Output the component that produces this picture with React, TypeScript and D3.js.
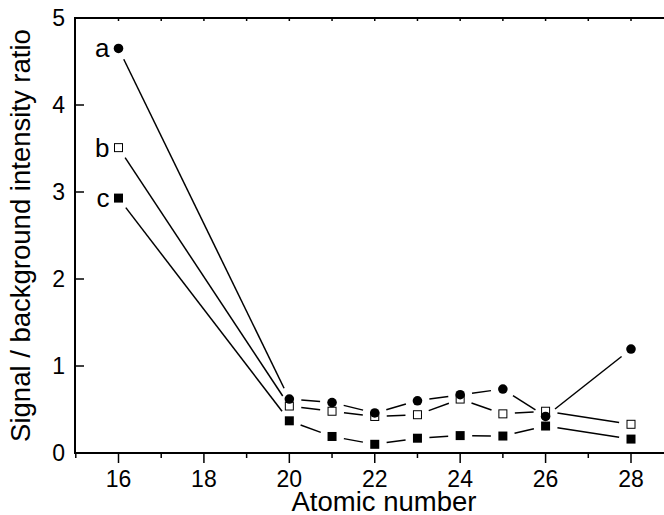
import React from "react";
import * as d3 from "d3";

const atomicNumbers = [16, 20, 21, 22, 23, 24, 25, 26, 28];
const seriesA = [4.65, 0.62, 0.58, 0.46, 0.6, 0.67, 0.735, 0.42, 1.195];
const seriesB = [3.51, 0.54, 0.48, 0.42, 0.44, 0.62, 0.45, 0.48, 0.33];
const seriesC = [2.93, 0.37, 0.19, 0.1, 0.17, 0.2, 0.195, 0.31, 0.16];
const seriesLabels = ["a", "b", "c"];
const xTickValues = [16, 18, 20, 22, 24, 26, 28];
const yTickValues = [0, 1, 2, 3, 4, 5];

const W = 664;
const H = 515;
const left = 75;
const top = 18;
const bottom = 453;
const FONT = "'Liberation Sans', Arial, Helvetica, sans-serif";

export default function App() {
  const x = d3.scaleLinear().domain([16, 28]).range([118.5, 631]);
  const y = d3.scaleLinear().domain([0, 5]).range([bottom, top]);
  const gap = 12;

  const segs = (vals: number[]) => {
    const out: { x1: number; y1: number; x2: number; y2: number }[] = [];
    for (let i = 0; i < vals.length - 1; i++) {
      const ax = x(atomicNumbers[i]), ay = y(vals[i]);
      const bx = x(atomicNumbers[i + 1]), by = y(vals[i + 1]);
      const dx = bx - ax, dy = by - ay;
      const L = Math.hypot(dx, dy);
      if (L <= 2 * gap) continue;
      const ux = dx / L, uy = dy / L;
      out.push({ x1: ax + ux * gap, y1: ay + uy * gap, x2: bx - ux * gap, y2: by - uy * gap });
    }
    return out;
  };

  const allSeries = [seriesC, seriesB, seriesA];
  const minorX = d3.range(15, 30, 1).filter((v) => v % 2 === 1 && x(v) > left);
  const topTicks = d3.range(16, 30, 1);

  return (
    <svg width={W} height={H} style={{ position: "absolute", left: 0, top: 0, background: "#fff" }} fontFamily={FONT}>
      <rect x={0} y={0} width={W} height={H} fill="#fff" />
      {allSeries.map((s, si) =>
        segs(s).map((g, i) => (
          <line key={`l${si}-${i}`} x1={g.x1} y1={g.y1} x2={g.x2} y2={g.y2} stroke="#000" strokeWidth={1.5} />
        ))
      )}
      {seriesC.map((v, i) => (
        <rect key={`c${i}`} x={x(atomicNumbers[i]) - 4.5} y={y(v) - 4.5} width={9} height={9} fill="#000" />
      ))}
      {seriesB.map((v, i) => (
        <rect key={`b${i}`} x={x(atomicNumbers[i]) - 4} y={y(v) - 4} width={8} height={8} fill="#fff" stroke="#000" strokeWidth={1} />
      ))}
      {seriesA.map((v, i) => (
        <circle key={`a${i}`} cx={x(atomicNumbers[i])} cy={y(v)} r={4.8} fill="#000" />
      ))}
      {[seriesA, seriesB, seriesC].map((s, i) => (
        <text key={`lab${i}`} x={x(atomicNumbers[0]) - 9} y={y(s[0]) + 9} textAnchor="end" fontSize={26} fill="#000">
          {seriesLabels[i]}
        </text>
      ))}
      <line x1={left} y1={top} x2={W} y2={top} stroke="#000" strokeWidth={2} />
      <line x1={left} y1={top - 1} x2={left} y2={bottom + 1} stroke="#000" strokeWidth={2} />
      <line x1={left - 1} y1={bottom} x2={W} y2={bottom} stroke="#000" strokeWidth={2} />
      {topTicks.map((v) => (
        <line key={`tt${v}`} x1={x(v)} x2={x(v)} y1={top} y2={top + 3} stroke="#000" strokeWidth={1.5} />
      ))}
      {xTickValues.map((v) => (
        <g key={`xt${v}`}>
          <line x1={x(v)} x2={x(v)} y1={bottom} y2={bottom + 10} stroke="#000" strokeWidth={1.5} />
          <text x={x(v)} y={487} textAnchor="middle" fontSize={23} fill="#000">{v}</text>
        </g>
      ))}
      {minorX.map((v) => (
        <line key={`xm${v}`} x1={x(v)} x2={x(v)} y1={bottom} y2={bottom + 5} stroke="#000" strokeWidth={1.5} />
      ))}
      {yTickValues.map((v) => (
        <g key={`yt${v}`}>
          <line x1={left} x2={left + 9} y1={y(v)} y2={y(v)} stroke="#000" strokeWidth={1.5} />
          <text x={65} y={y(v) + 8} textAnchor="end" fontSize={23} fill="#000">{v}</text>
        </g>
      ))}
      <text x={384} y={511} textAnchor="middle" fontSize={27.5} fill="#000">Atomic number</text>
      <text transform={`translate(30,${(top + bottom) / 2}) rotate(-90)`} textAnchor="middle" fontSize={27.5} fill="#000">
        Signal / background intensity ratio
      </text>
    </svg>
  );
}
